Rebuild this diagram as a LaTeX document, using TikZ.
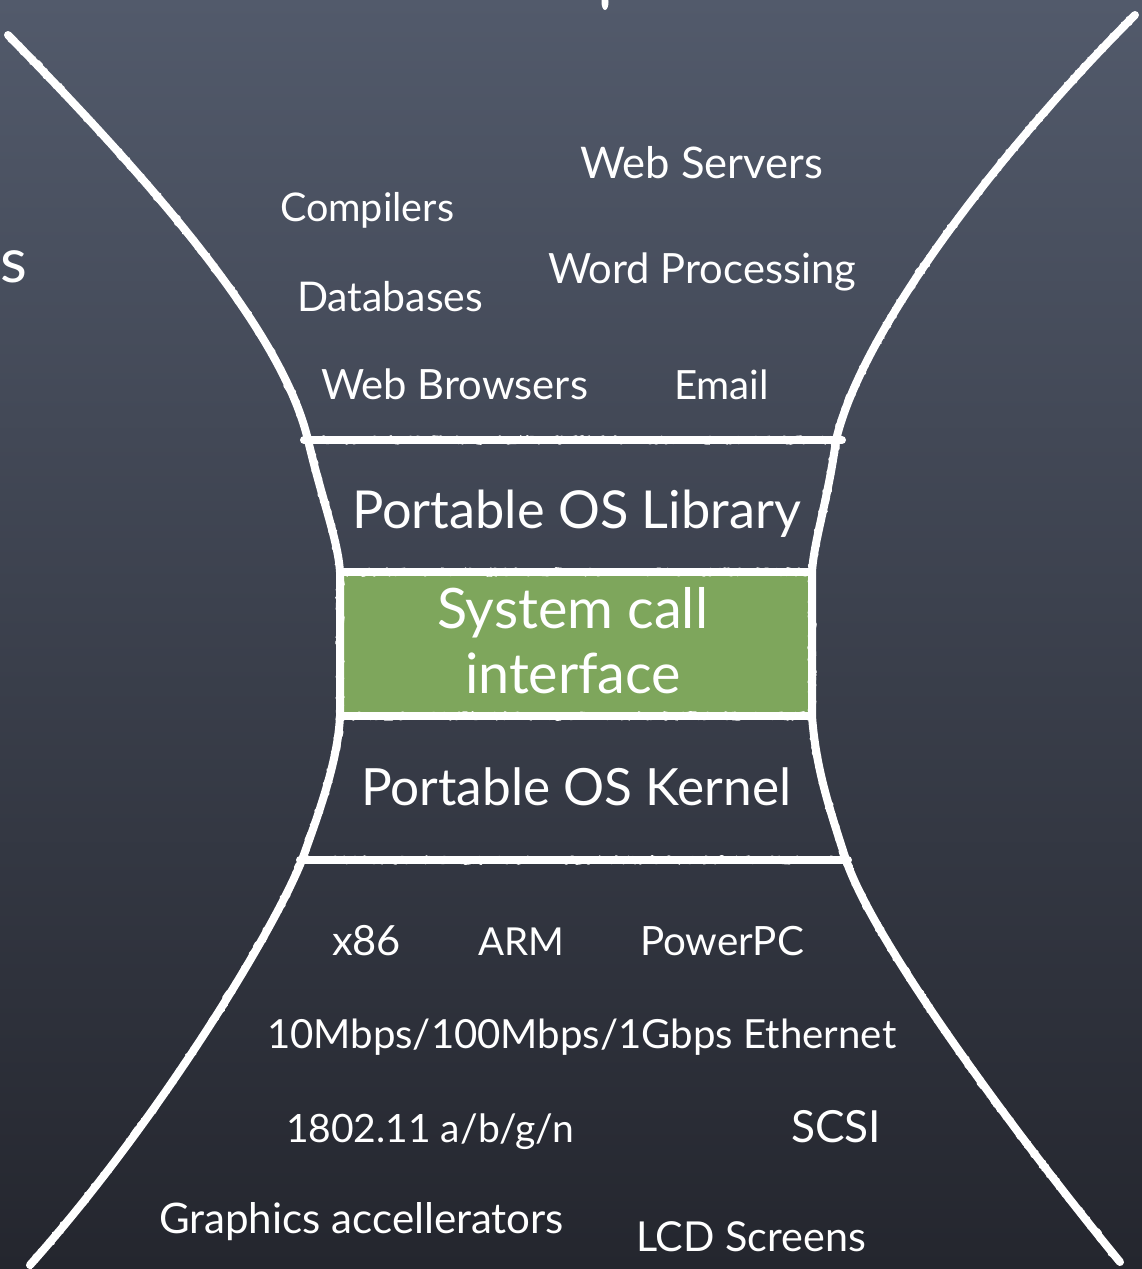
\documentclass[tikz,border=0pt]{standalone}
\usepackage{fontspec}
\setmainfont{Lato}
\usetikzlibrary{decorations.pathmorphing}
\definecolor{bgtop}{RGB}{82,90,107}
\definecolor{bgmid}{RGB}{62,67,80}
\definecolor{bgbot}{RGB}{36,38,46}
\definecolor{chalkgreen}{RGB}{126,166,92}
\newcommand{\fitw}[2]{\resizebox{#1pt}{!}{#2}}
\tikzset{
  chalk/.style={draw=white, line width=8pt, line cap=round, line join=round,
    postaction={draw=white, line width=3pt, decorate,
      decoration={random steps, segment length=2pt, amplitude=3.4pt}}},
  lbl/.style={anchor=base west, inner sep=0pt, outer sep=0pt, text=white},
}
\begin{document}
\begin{tikzpicture}[x=1pt,y=-1pt]
\useasboundingbox (0,0) rectangle (1142,1269);
\shade[top color=bgtop, middle color=bgmid, bottom color=bgbot] (0,0) rectangle (1142,1269);

% green system call box
\fill[chalkgreen] (340,572) rectangle (812,716);

% left and right chalk curves
\draw[chalk] (8,35) .. controls (150,180) and (282,330) .. (308,440)
  .. controls (322,500) and (338,540) .. (340,572) -- (340,716)
  .. controls (338,760) and (320,810) .. (302,860)
  .. controls (272,935) and (155,1125) .. (30,1265);
\draw[chalk] (1135,15) .. controls (1000,150) and (862,330) .. (836,440)
  .. controls (828,500) and (814,540) .. (812,572) -- (812,716)
  .. controls (816,770) and (830,810) .. (846,860)
  .. controls (875,945) and (1020,1140) .. (1120,1262);

% horizontal chalk lines
\draw[chalk] (304,440) -- (842,440);
\draw[chalk] (340,572) -- (812,572);
\draw[chalk] (340,716) -- (812,716);
\draw[chalk] (300,860) -- (848,860);

% fragments at the edges
\fill[white] (605,2) ellipse (3.5 and 8);
\node[lbl, font=\fontsize{62}{62}\selectfont] (frag) at (1,282) {s};

% applications
\node[lbl] (websrv) at (580,178) {\fitw{243}{Web Servers}};
\node[lbl] (comp) at (280,221) {\fitw{174}{Compilers}};
\node[lbl] (word) at (548,283) {\fitw{308}{Word Processing}};
\node[lbl] (db) at (297,311) {\fitw{186}{Databases}};
\node[lbl] (webbr) at (321,399) {\fitw{267}{Web Browsers}};
\node[lbl] (email) at (674,399) {\fitw{95}{Email}};

% layers
\node[lbl] (lib) at (352,528) {\fitw{449}{Portable OS Library}};
\node[lbl] (sysa) at (437,628) {\fitw{271}{System call}};
\node[lbl] (sysb) at (465,693) {\fitw{216}{interface}};
\node[lbl] (kern) at (361,805) {\fitw{430}{Portable OS Kernel}};

% hardware
\node[lbl] (x86) at (332,955) {\fitw{69}{x86}};
\node[lbl] (arm) at (478,955) {\fitw{86}{ARM}};
\node[lbl] (ppc) at (640,955) {\fitw{164}{PowerPC}};
\node[lbl] (eth) at (267,1048) {\fitw{629}{10Mbps/100Mbps/1Gbps Ethernet}};
\node[lbl] (wifi) at (286,1142) {\fitw{288}{1802.11 a/b/g/n}};
\node[lbl] (scsi) at (791,1142) {\fitw{90}{SCSI}};
\node[lbl] (gfx) at (159,1233) {\fitw{405}{Graphics accellerators}};
\node[lbl] (lcd) at (636,1251) {\fitw{230}{LCD Screens}};
\end{tikzpicture}
\end{document}
